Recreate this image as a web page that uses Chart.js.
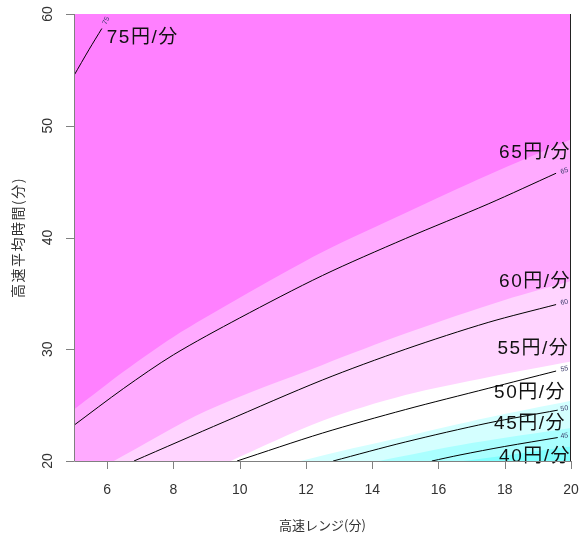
<!DOCTYPE html>
<html>
<head>
<meta charset="utf-8">
<script src="https://cdn.jsdelivr.net/npm/chart.js@4.4.0/dist/chart.umd.min.js"></script>
<style>
  body { margin: 0; background: #fff; }
  #wrap { width: 582px; height: 533px; }
</style>
</head>
<body>
<div id="wrap"><canvas id="contourChart"></canvas></div>
<script>
  // axis ticks
  const xTicks = [6, 8, 10, 12, 14, 16, 18, 20];
  const yTicks = [20, 30, 40, 50, 60];

  // filled bands: upper boundary of each colour band [x, y]
  const bandColors = ['#FF80FF', '#FFAAFF', '#FFD4FF', '#FFFFFF', '#D4FFFF', '#AAFFFF', '#80FFFF'];
  const band0 = [[5, 60], [20, 60]];
  const band1 = [[5, 24.6], [6.5, 28.0], [8, 31.1], [10, 34.6], [12.5, 38.7], [15, 42.2], [17.5, 45.6], [20, 48.8]];
  const band2 = [[5, 18.1], [6.2, 20], [9, 24.5], [12.5, 28.6], [15, 31.4], [18, 34.4], [20, 36.1]];
  const band3 = [[5, 13.5], [9.73, 20], [12.5, 23.6], [15, 25.9], [17.5, 27.5], [20, 28.9]];
  const band4 = [[8, 16.5], [11.84, 20], [15, 22.2], [17.5, 23.9], [20, 25.4]];
  const band5 = [[11, 18.2], [14.2, 20], [17, 21.6], [20, 22.95]];
  const band6 = [[14, 18.9], [16.74, 20], [18.5, 20.7], [20, 21.3]];

  // contour lines
  const c75 = [[5, 54.5], [5.45, 56.8], [5.84, 58.7]];
  const c65 = [[5, 23.2], [6.5, 26.5], [8, 29.5], [10, 32.8], [12.5, 36.6], [15, 39.9], [17.5, 43.0], [19.55, 45.75]];
  const c60 = [[6.81, 20], [9.53, 23.5], [12.5, 27.25], [15, 30.0], [17.5, 32.4], [19.55, 34.0]];
  const c55 = [[9.92, 20], [12.5, 22.5], [15, 24.6], [17.5, 26.5], [19.55, 28.05]];
  const c50 = [[12.82, 20], [15, 21.7], [17.5, 23.4], [19.6, 24.55]];
  const c45 = [[15.8, 20], [16.65, 20.54], [18, 21.3], [19.6, 22.1]];

  // small contour labels
  const smallLabels = ['75', '65', '60', '55', '50', '45'];
  const smallX = [5.97, 19.8, 19.8, 19.8, 19.8, 19.8];
  const smallY = [59.4, 45.95, 34.2, 28.25, 24.7, 22.25];
  const smallAngle = [-1.15, -0.3, -0.22, -0.18, -0.15, -0.12];

  // big annotations
  const noteText = ['75円/分', '65円/分', '60円/分', '55円/分', '50円/分', '45円/分', '40円/分'];
  const noteX = [5.99, 20, 20, 19.95, 19.85, 19.85, 20];
  const noteY = [57.9, 47.55, 36.05, 30.0, 26.1, 23.3, 20.4];

  const toPts = arr => arr.map(p => ({ x: p[0], y: p[1] }));
  const bands = [band0, band1, band2, band3, band4, band5, band6];
  const contours = [c75, c65, c60, c55, c50, c45];

  const datasets = [];
  bands.forEach((b, i) => {
    datasets.push({
      data: toPts(b),
      borderWidth: 0,
      borderColor: 'rgba(0,0,0,0)',
      backgroundColor: bandColors[i],
      fill: 'start',
      pointRadius: 0,
      tension: 0.3,
      order: 10 - i
    });
  });
  contours.forEach(c => {
    datasets.push({
      data: toPts(c),
      borderWidth: 1,
      borderColor: '#000',
      fill: false,
      pointRadius: 0,
      tension: 0.3,
      order: 0
    });
  });

  const axesPlugin = {
    id: 'axesPlugin',
    afterDatasetsDraw(chart) {
      const ctx = chart.ctx;
      const xs = chart.scales.x, ys = chart.scales.y;
      const a = chart.chartArea;
      ctx.save();

      // small contour labels
      ctx.fillStyle = '#3a3a6a';
      ctx.font = '7px "Liberation Sans", Arial, sans-serif';
      ctx.textAlign = 'center';
      ctx.textBaseline = 'middle';
      smallLabels.forEach((t, i) => {
        ctx.save();
        ctx.translate(xs.getPixelForValue(smallX[i]), ys.getPixelForValue(smallY[i]));
        ctx.rotate(smallAngle[i]);
        ctx.fillText(t, 0, 0);
        ctx.restore();
      });

      // big notes
      ctx.fillStyle = '#111';
      ctx.font = '19px "Liberation Sans", "Noto Sans CJK JP", sans-serif';
      ctx.letterSpacing = '1.5px';
      noteText.forEach((t, i) => {
        ctx.textAlign = i === 0 ? 'left' : 'right';
        ctx.fillText(t, xs.getPixelForValue(noteX[i]), ys.getPixelForValue(noteY[i]));
      });
      ctx.letterSpacing = '0px';

      // frame
      ctx.lineWidth = 1;
      ctx.strokeStyle = '#808080';
      ctx.beginPath();
      ctx.moveTo(a.left + 0.5, a.top);
      ctx.lineTo(a.left + 0.5, a.bottom + 0.5);
      ctx.lineTo(a.right, a.bottom + 0.5);
      ctx.stroke();
      ctx.strokeStyle = '#222';
      ctx.beginPath();
      ctx.moveTo(a.right - 0.5, a.top);
      ctx.lineTo(a.right - 0.5, a.bottom);
      ctx.stroke();

      // ticks
      ctx.strokeStyle = '#808080';
      ctx.fillStyle = '#333';
      ctx.font = '14px "Liberation Sans", Arial, sans-serif';
      ctx.beginPath();
      xTicks.forEach(v => {
        const px = Math.round(xs.getPixelForValue(v)) + 0.5;
        ctx.moveTo(px, a.bottom);
        ctx.lineTo(px, a.bottom + 8);
      });
      yTicks.forEach(v => {
        const py = Math.round(ys.getPixelForValue(v)) + 0.5;
        ctx.moveTo(a.left, py);
        ctx.lineTo(a.left - 8, py);
      });
      ctx.stroke();

      ctx.textAlign = 'center';
      ctx.textBaseline = 'middle';
      xTicks.forEach(v => {
        ctx.fillText(String(v), xs.getPixelForValue(v), a.bottom + 29);
      });
      yTicks.forEach(v => {
        ctx.save();
        ctx.translate(a.left - 26, ys.getPixelForValue(v));
        ctx.rotate(-Math.PI / 2);
        ctx.fillText(String(v), 0, 0);
        ctx.restore();
      });

      // axis titles
      ctx.font = '13px "Noto Sans CJK JP", sans-serif';
      ctx.fillText('高速レンジ(分)', (a.left + a.right) / 2, a.bottom + 64);
      ctx.save();
      ctx.translate(18, (a.top + a.bottom) / 2);
      ctx.rotate(-Math.PI / 2);
      ctx.font = '14px "Noto Sans CJK JP", sans-serif';
      ctx.letterSpacing = '1.5px';
      ctx.fillText('高速平均時間(分)', 0, 0);
      ctx.restore();

      ctx.restore();
    }
  };

  new Chart(document.getElementById('contourChart').getContext('2d'), {
    type: 'line',
    data: { datasets: datasets },
    options: {
      responsive: true,
      maintainAspectRatio: false,
      animation: false,
      layout: { padding: { left: 74, right: 11, top: 14, bottom: 72 } },
      plugins: {
        legend: { display: false },
        tooltip: { enabled: false }
      },
      scales: {
        x: { type: 'linear', min: 5, max: 20, display: false },
        y: { type: 'linear', min: 20, max: 60, display: false }
      }
    },
    plugins: [axesPlugin]
  });
</script>
</body>
</html>
